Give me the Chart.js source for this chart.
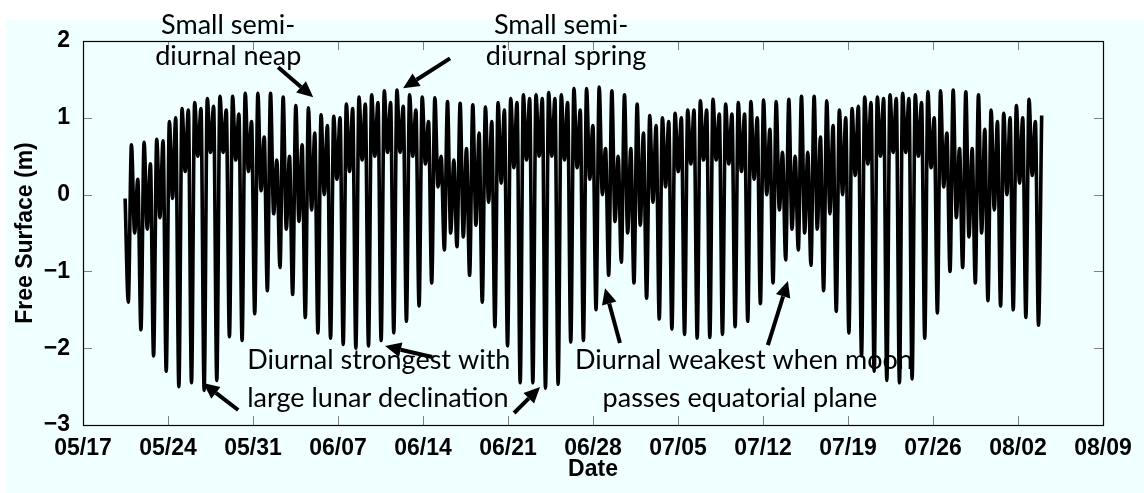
<!DOCTYPE html>
<html>
<head>
<meta charset="utf-8">
<script src="https://cdn.jsdelivr.net/npm/chart.js@4.4.0/dist/chart.umd.min.js"></script>
<style>
html,body{margin:0;padding:0;background:#fff;}
canvas{display:block;}
</style>
</head>
<body>
<canvas id="c" width="1144" height="493"></canvas>
<script>
// ---- tick labels ----
const tickLabels = ['05/17','05/24','05/31','06/07','06/14','06/21','06/28','07/05','07/12','07/19','07/26','08/02','08/09'];
const yTickValues = [-3,-2,-1,0,1,2];

// ---- tidal extremes, one entry per tidal day (metres) ----
const lowerHigh = [
 -0.05,0.2,0.4,0.7,1.0,1.1,1.12,1.15,1.1,1.05,
 0.95,0.75,0.45,0.5,0.65,0.8,0.9,1.0,1.12,1.18,
 1.2,1.2,1.15,1.1,0.95,0.5,0.45,0.6,0.8,0.95,
 1.1,1.2,1.25,1.25,1.25,1.2,1.1,0.9,0.6,0.5,
 0.6,0.8,0.9,0.95,1.0,1.1,1.1,1.05,1.05,1.05,
 1.0,0.85,0.55,0.5,0.55,0.75,0.9,1.0,1.15,1.2,
 1.25,1.25,1.25,1.2,1.0,0.8,0.6,0.6,0.85,0.95,
 1.0,1.0,0.95];
const lowerLow = [
 -1.4,-1.76,-2.1,-2.3,-2.5,-2.45,-2.55,-2.42,-1.85,-1.9,
 -1.55,-1.25,-0.95,-1.3,-1.6,-1.8,-1.87,-1.95,-2.0,-1.97,
 -1.9,-1.8,-1.65,-1.45,-1.15,-0.72,-0.68,-1.05,-1.4,-1.72,
 -1.97,-2.45,-2.45,-2.52,-2.47,-1.92,-1.9,-1.5,-1.05,-0.88,
 -1.15,-1.35,-1.62,-1.75,-1.82,-1.87,-1.86,-1.82,-1.72,-1.65,
 -1.42,-1.15,-0.85,-0.72,-0.92,-1.25,-1.52,-1.8,-2.1,-2.3,
 -2.42,-2.45,-2.4,-1.87,-1.54,-1.0,-0.95,-1.15,-1.38,-1.45,
 -1.5,-1.6,-1.7];
const higherHigh = [
 0.65,0.68,0.72,0.95,1.12,1.2,1.25,1.28,1.28,1.32,
 1.32,1.32,1.27,1.16,1.13,1.04,1.02,1.18,1.27,1.3,
 1.35,1.36,1.3,1.27,1.26,1.21,1.19,1.17,1.14,1.2,
 1.25,1.3,1.3,1.33,1.3,1.38,1.38,1.4,1.35,1.3,
 1.18,1.03,1.0,1.06,1.1,1.22,1.24,1.18,1.2,1.21,
 1.23,1.21,1.24,1.28,1.28,1.22,1.1,1.12,1.27,1.27,
 1.3,1.32,1.3,1.34,1.35,1.36,1.34,1.3,1.1,1.06,
 1.16,1.24,1.03];
const higherLow = [
 -0.5,-0.45,-0.3,-0.05,0.3,0.5,0.55,0.55,0.45,0.3,
 0.05,-0.25,-0.45,-0.35,-0.2,0.0,0.2,0.3,0.45,0.5,
 0.55,0.55,0.5,0.4,0.1,-0.5,-0.55,-0.4,-0.1,0.15,
 0.35,0.45,0.5,0.5,0.45,0.35,0.2,0.0,-0.35,-0.5,
 -0.4,-0.1,0.1,0.3,0.4,0.45,0.45,0.4,0.3,0.2,
 0.0,-0.2,-0.45,-0.5,-0.45,-0.25,0.0,0.25,0.4,0.5,
 0.55,0.55,0.5,0.35,0.1,-0.3,-0.55,-0.5,-0.2,0.0,
 0.15,0.25];

const firstLowDay = 3.73;       // days after 05/17 of the first lower low
const tidalDayLength = 1.0411;  // days

// ---- annotations (in data units: days after 05/17, metres) ----
const noteTexts = [
 {text:'Small semi-', day:11.96, val:2.087, align:'center'},
 {text:'diurnal neap', day:11.96, val:1.683, align:'center'},
 {text:'Small semi-', day:39.37, val:2.087, align:'center'},
 {text:'diurnal spring', day:39.78, val:1.683, align:'center'},
 {text:'Diurnal strongest with', day:13.52, val:-2.272, align:'left'},
 {text:'large lunar declination', day:13.52, val:-2.766, align:'left'},
 {text:'Diurnal weakest when moon', day:54.43, val:-2.272, align:'center'},
 {text:'passes equatorial plane', day:54.10, val:-2.766, align:'center'}
];
const noteArrows = [
 {from:[16.07,1.657], to:[18.96,1.267]},
 {from:[30.23,1.774], to:[26.36,1.384]},
 {from:[28.75,-2.115], to:[24.88,-1.972]},
 {from:[12.78,-2.805], to:[9.90,-2.454]},
 {from:[35.50,-2.844], to:[37.64,-2.505]},
 {from:[44.22,-1.933], to:[42.99,-1.218]},
 {from:[56.40,-1.959], to:[58.05,-1.126]}
];

// build the series: lower high, lower low, higher high, higher low per tidal day
const points = [];
for (let k = 0; k < lowerLow.length; k++) {
  const t = firstLowDay + k * tidalDayLength;
  const q = tidalDayLength / 4;
  points.push({x: t - q, y: lowerHigh[k]});
  points.push({x: t, y: lowerLow[k]});
  points.push({x: t + q, y: higherHigh[k]});
  if (k < higherLow.length) points.push({x: t + 2 * q, y: higherLow[k]});
}

const bgPlugin = {
  id: 'bg',
  beforeDraw(chart) {
    const ctx = chart.ctx;
    ctx.save();
    ctx.fillStyle = '#ffffff';
    ctx.fillRect(0, 0, chart.width, chart.height);
    ctx.fillStyle = '#f0ffff';
    ctx.fillRect(5, 20, chart.width - 5, chart.height - 20);
    ctx.restore();
  }
};

const framePlugin = {
  id: 'frame',
  afterDatasetsDraw(chart) {
    const {ctx, chartArea: a, scales: {x, y}} = chart;
    ctx.save();
    ctx.lineWidth = 1;
    ctx.strokeStyle = '#808080';
    const L = 9;
    const seg = (x1, y1, x2, y2) => { ctx.beginPath(); ctx.moveTo(x1, y1); ctx.lineTo(x2, y2); ctx.stroke(); };
    x.ticks.forEach(t => {
      if (t.value <= x.min || t.value >= x.max) return;
      const px = Math.round(x.getPixelForValue(t.value)) + 0.5;
      seg(px, a.bottom, px, a.bottom - L);
      seg(px, a.top, px, a.top + L);
    });
    y.ticks.forEach(t => {
      if (t.value <= y.min || t.value >= y.max) return;
      const py = Math.round(y.getPixelForValue(t.value)) + 0.5;
      seg(a.left, py, a.left + L, py);
      seg(a.right, py, a.right - L, py);
    });
    ctx.strokeStyle = '#000';
    ctx.lineWidth = 1.2;
    ctx.strokeRect(Math.round(a.left) + 0.5, Math.round(a.top) + 0.5, Math.round(a.right - a.left), Math.round(a.bottom - a.top));
    ctx.restore();
  }
};

const notePlugin = {
  id: 'notes',
  afterDraw(chart) {
    const {ctx, scales: {x, y}} = chart;
    ctx.save();
    ctx.fillStyle = '#000';
    ctx.font = '27px Lato';
    ctx.textBaseline = 'alphabetic';
    noteTexts.forEach(n => {
      ctx.textAlign = n.align;
      ctx.fillText(n.text, x.getPixelForValue(n.day), y.getPixelForValue(n.val));
    });
    ctx.strokeStyle = '#000';
    ctx.lineWidth = 4;
    ctx.lineCap = 'butt';
    noteArrows.forEach(ar => {
      const x1 = x.getPixelForValue(ar.from[0]), y1 = y.getPixelForValue(ar.from[1]);
      const x2 = x.getPixelForValue(ar.to[0]), y2 = y.getPixelForValue(ar.to[1]);
      const ang = Math.atan2(y2 - y1, x2 - x1);
      const hl = 16, hw = 7.5;
      const bx = x2 - hl * Math.cos(ang), by = y2 - hl * Math.sin(ang);
      ctx.beginPath(); ctx.moveTo(x1, y1); ctx.lineTo(bx, by); ctx.stroke();
      ctx.beginPath();
      ctx.moveTo(x2, y2);
      ctx.lineTo(bx + hw * Math.sin(ang), by - hw * Math.cos(ang));
      ctx.lineTo(bx - hw * Math.sin(ang), by + hw * Math.cos(ang));
      ctx.closePath(); ctx.fill();
    });
    ctx.restore();
  }
};

const axisFont = {family: '"Liberation Sans", Arial, sans-serif', weight: 'bold', size: 23};
const titleFont = {family: '"Liberation Sans", Arial, sans-serif', weight: 'bold', size: 23};

new Chart(document.getElementById('c'), {
  type: 'line',
  data: {
    datasets: [{
      data: points,
      borderColor: '#000',
      borderWidth: 3.6,
      pointRadius: 0,
      fill: false,
      cubicInterpolationMode: 'monotone'
    }]
  },
  options: {
    responsive: false,
    animation: false,
    events: [],
    layout: {padding: {top: 41, right: 41, left: 0, bottom: 0}},
    plugins: {legend: {display: false}, tooltip: {enabled: false}},
    scales: {
      x: {
        type: 'linear', min: 0, max: 84,
        grid: {display: false}, border: {display: false},
        ticks: {stepSize: 7, autoSkip: false, maxRotation: 0, padding: 2, color: '#000', font: axisFont,
          callback: v => tickLabels[Math.round(v / 7)]},
        title: {display: true, text: 'Date', color: '#000', font: titleFont, padding: {top: 0, bottom: 10}},
        afterFit: s => { s.height = 68; }
      },
      y: {
        type: 'linear', min: -3, max: 2,
        grid: {display: false}, border: {display: false},
        afterBuildTicks: s => { s.ticks = yTickValues.map(v => ({value: v})); },
        ticks: {padding: 5, color: '#000', font: axisFont,
          callback: v => (v < 0 ? '\u2212' + Math.abs(v) : String(v))},
        title: {display: true, text: 'Free Surface (m)', color: '#000', font: titleFont, padding: {top: 12, bottom: 0}},
        afterFit: s => { s.width = 83; }
      }
    }
  },
  plugins: [bgPlugin, framePlugin, notePlugin]
});
</script>
</body>
</html>
